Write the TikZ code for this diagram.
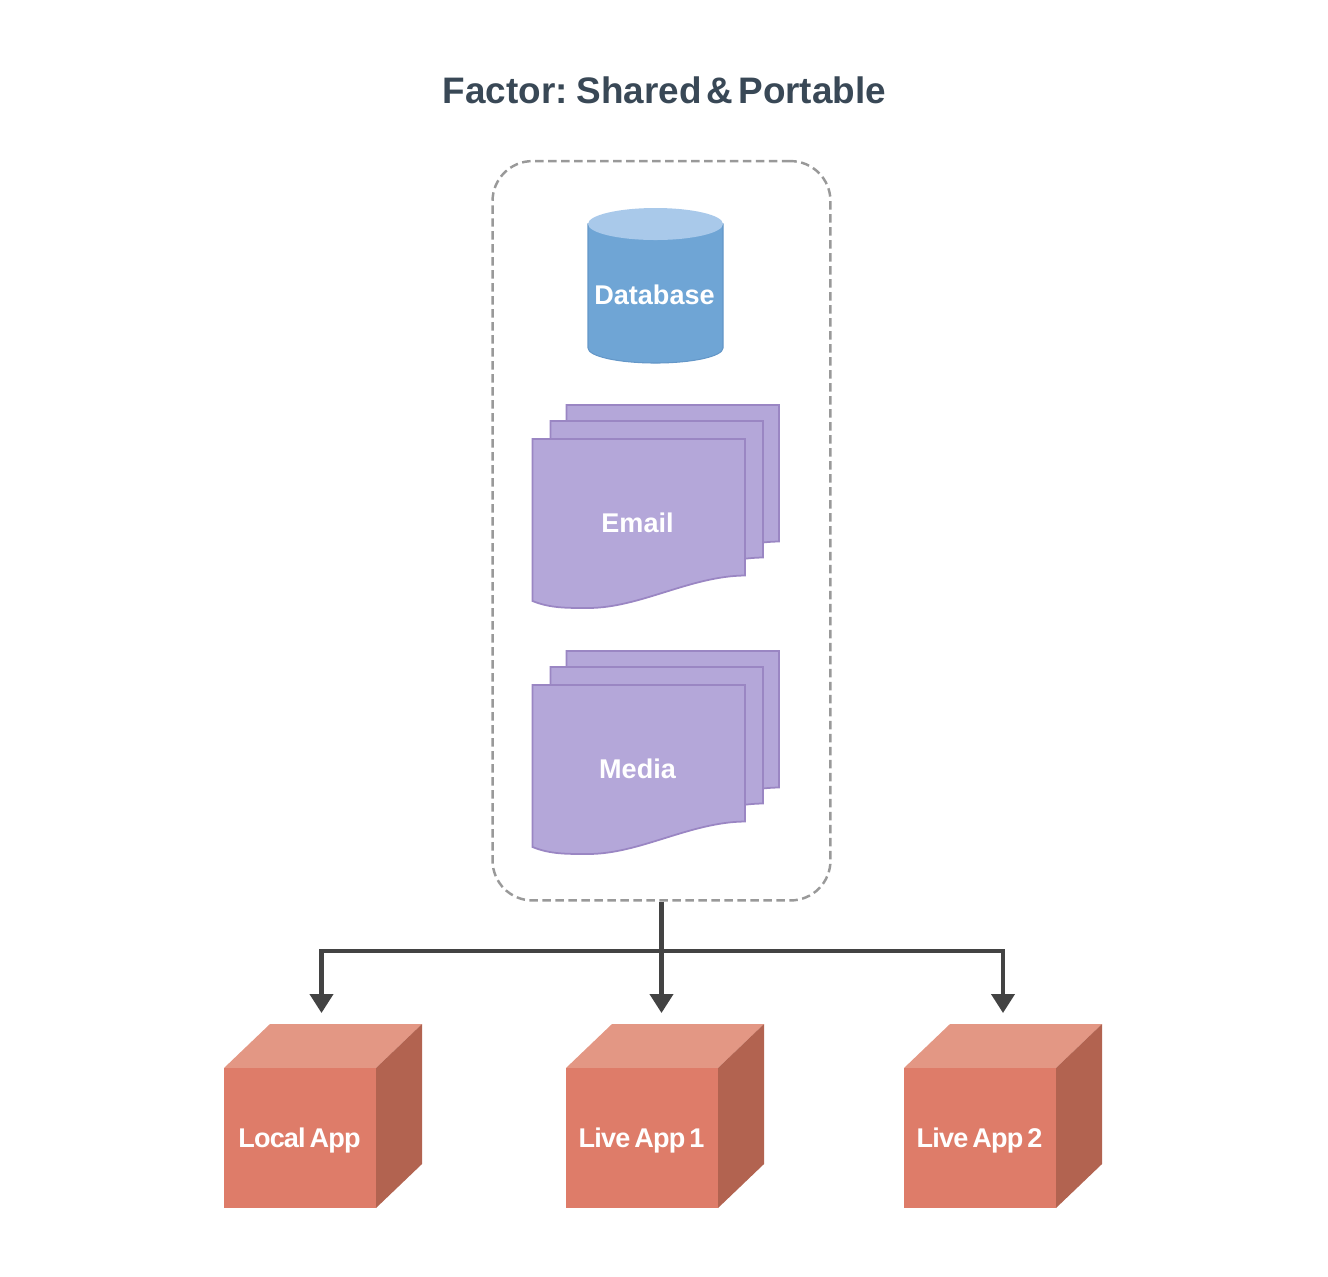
\documentclass[tikz,border=0pt]{standalone}
\usepackage{fontspec}
\setmainfont{Liberation Sans}
\usetikzlibrary{arrows.meta}

\definecolor{titleink}{HTML}{394856}
\definecolor{frameink}{HTML}{999999}
\definecolor{flowink}{HTML}{434343}
\definecolor{dbbody}{HTML}{6FA5D5}
\definecolor{dbtop}{HTML}{A9C9EA}
\definecolor{dbedge}{HTML}{6497C8}
\definecolor{sheetfill}{HTML}{B4A7D9}
\definecolor{sheetedge}{HTML}{9A86C3}
\definecolor{cubefront}{HTML}{DE7C69}
\definecolor{cubetop}{HTML}{E39784}
\definecolor{cubeside}{HTML}{B26350}

\newfontface\tightface[WordSpace=0.5]{Liberation Sans Bold}
\newfontface\cubeface[WordSpace=0.6,LetterSpace=-3]{Liberation Sans Bold}

\tikzset{
  label/.style={text=white,font=\fontsize{15.4}{18}\selectfont\bfseries,inner sep=0pt},
  cubelabel/.style={text=white,font=\fontsize{15.4}{18}\cubeface,inner sep=0pt},
  frame/.style={draw=frameink,line width=1.4pt,dash pattern=on 0.17cm off 0.09cm,rounded corners=0.8cm,
    minimum width=6.76cm,minimum height=14.79cm,inner sep=0pt},
  flow/.style={draw=flowink,line width=2.3pt,-{Triangle[length=0.38cm,width=0.46cm]}},
  sheet/.style={fill=sheetfill,draw=sheetedge,line width=1pt}
}
\newcommand{\sheetshape}{(532.5,439) -- (745,439) -- (745,575.5)
  .. controls (690,576) and (640,608) .. (588,608) .. controls (565,608) and (550,608) .. (532.5,601) -- cycle}

\begin{document}
\begin{tikzpicture}[x=0.02cm,y=-0.02cm]
  \useasboundingbox (0,0) rectangle (1328,1276);
  \node[text=titleink,font=\fontsize{21}{24}\tightface,inner sep=0pt] (title) at (664.5,90.5) {Factor: Shared \& Portable};
  \node[frame] (shared) at (661.5,530.75) {};
  % database
  \draw[fill=dbbody,draw=dbedge,line width=0.6pt] (588,224) -- (588,348) arc[start angle=180,end angle=0,x radius=67.5,y radius=15] -- (723,224) -- cycle;
  \fill[dbtop] (655.5,224) ellipse[x radius=67.5,y radius=16];
  \node[label] (database) at (654.5,295) {Database};
  % sheet stacks
  \foreach \name/\txt/\dy in {email/Email/0,media/Media/246} {
    \foreach \dx in {34,18,0} {
      \draw[sheet,shift={(\dx,\dy-\dx)}] \sheetshape;
    }
    \node[label] (\name) at (637.5,523+\dy) {\txt};
  }
  % cubes
  \foreach \name/\txt/\x/\xt in {localapp/Local App/224/299.5,liveappa/Live App 1/566/641.5,liveappb/Live App 2/904/979.5} {
    \fill[cubetop] (\x,1068) -- (\x+46,1024) -- (\x+198,1024) -- (\x+152,1068) -- cycle;
    \fill[cubeside] (\x+152,1068) -- (\x+198,1024) -- (\x+198,1164) -- (\x+152,1208) -- cycle;
    \fill[cubefront] (\x,1068) rectangle (\x+152,1208);
    \node[cubelabel] (\name) at (\xt,1140.5) {\txt};
  }
  % connectors
  \coordinate (split) at (661.5,951);
  \coordinate (localin) at (321.5,1013);
  \coordinate (liveain) at (661.5,1013);
  \coordinate (livebin) at (1003,1013);
  \draw[flow] (shared.south) -- (liveain);
  \draw[flow] (split) -| (localin);
  \draw[flow] (split) -| (livebin);
\end{tikzpicture}
\end{document}
